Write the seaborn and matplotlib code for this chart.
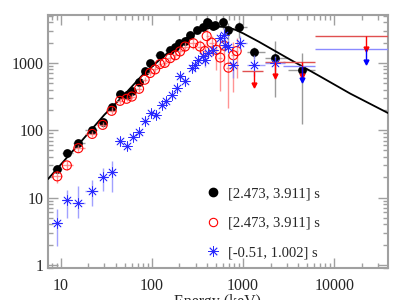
import numpy as np
import pandas as pd
import matplotlib
matplotlib.use("Agg")
import matplotlib.pyplot as plt
import matplotlib.ticker as mticker
from matplotlib.lines import Line2D
import seaborn as sns

# ============================================================================
# DATA
# ============================================================================

# interval [2.473, 3.911] s, filled black circles
blk_e = [9.1, 11.6, 15.5, 22, 28.7, 36, 44.5, 52.5, 60, 72, 83, 95, 122, 158,
         178, 196, 230, 261, 309, 363, 398, 414, 470, 491, 598, 690, 904,
         1320, 2240, 4410]
blk_f = [26.5, 45.7, 64, 100, 133, 220, 347, 336, 385, 515, 745, 1000, 1300,
         1560, 1750, 1960, 2090, 2600, 3100, 3470, 4120, 3900, 3540, 3700,
         4040, 3100, 3360, 1445, 1200, 790]
blk_dlo = [.04, .03, .03, .03, .03, .03, .03, .03, .03, .03, .03, .03, .03,
           .03, .03, .03, .03, .04, .04, .04, .05, .05, .06, .06, .1, .15,
           .15, .08, .58, .8]
blk_dhi = [.04, .03, .03, .03, .03, .03, .03, .03, .03, .03, .03, .03, .03,
           .03, .03, .03, .03, .04, .04, .04, .05, .05, .06, .06, .08, .1,
           .1, .08, .24, .25]

# interval [2.473, 3.911] s, open red circles
red_e = [9.1, 11.6, 15.5, 22, 28.7, 36, 44.5, 52.5, 60, 72, 83, 95, 108, 122,
         138, 158, 180, 203, 230, 284, 336, 380, 398, 450, 510, 560, 620,
         690, 780, 850]
red_f = [20.6, 30, 54, 88, 120, 194, 273, 293, 316, 412, 562, 707, 800, 960,
         1000, 1175, 1300, 1480, 1750, 1960, 1750, 1500, 2500, 2000, 1560,
         1200, 1800, 850, 1300, 1500]
red_dlo = [.1, .07, .06, .05, .05, .05, .04, .04, .04, .04, .04, .04, .05,
           .05, .05, .05, .06, .06, .07, .08, .1, .2, .15, .2, .3, .5, .3,
           .6, .55, .4]
red_dhi = [.08, .06, .05, .05, .05, .05, .04, .04, .04, .04, .04, .04, .05,
           .05, .05, .05, .06, .06, .07, .08, .1, .1, .1, .1, .15, .15, .15,
           .2, .2, .2]
red_ul_e = [1320, 2240, 4410, 22300]
red_ul_f = [745, 1015, 1025, 2520]
red_ul_lo = [960, 1750, 2750, 6150]
red_ul_hi = [1670, 2900, 6150, 80000]

# interval [-0.51, 1.002] s, blue asterisks
blu_e = [9.1, 11.6, 15.2, 21.7, 29.2, 36, 44.5, 52.5, 62, 72, 83, 97, 110,
         128, 141, 166, 186, 204, 230, 275, 297, 323, 363, 380, 414, 470,
         560, 610, 630, 690, 780, 930, 1320, 2240]
blu_f = [4.2, 9.25, 8.4, 12.7, 19.9, 23.8, 68, 59, 79, 92.5, 139, 180, 170,
         240, 268, 337, 425, 630, 530, 835, 935, 1110, 1245, 1100, 1400,
         1560, 2330, 2630, 1860, 1750, 935, 1960, 935, 1000]
blu_dlo = [.35, .27, .23, .23, .2, .3, .06, .06, .05, .05, .05, .05, .05,
           .05, .05, .05, .05, .05, .05, .05, .05, .06, .06, .1, .06, .07,
           .08, .1, .1, .1, .2, .1, .16, .1]
blu_dhi = [.2, .14, .24, .16, .14, .16, .06, .06, .05, .05, .05, .05, .05,
           .05, .05, .05, .05, .05, .05, .05, .05, .06, .06, .1, .06, .07,
           .08, .1, .1, .1, .1, .1, .15, .1]
blu_ul_e = [4410, 22300]
blu_ul_f = [890, 1620]
blu_ul_lo = [2750, 6150]
blu_ul_hi = [6150, 80000]

# fitted model curve
fit_e = [7.2, 15, 30, 50, 80, 120, 180, 250, 350, 450, 550, 650, 800, 1000,
         1500, 3000, 7000, 15000, 39000]
fit_f = [18.8, 58, 170, 340, 680, 1100, 1760, 2450, 3050, 3350, 3450, 3400,
         3150, 2750, 2050, 1200, 630, 350, 180]

legend_labels = ["[2.473, 3.911] s", "[2.473, 3.911] s", "[-0.51, 1.002] s"]


def bin_err(e):
    # half widths of the energy bins (geometric midpoints)
    e = np.asarray(e, float)
    mid = np.sqrt(e[1:] * e[:-1])
    lo = np.r_[e[0] ** 2 / mid[0], mid]
    hi = np.r_[mid, e[-1] ** 2 / mid[-1]]
    return [e - lo, hi - e]


def flux_err(f, dlo, dhi):
    f = np.asarray(f, float)
    return [f - f * 10 ** -np.asarray(dlo), f * 10 ** np.asarray(dhi) - f]


# ============================================================================
# PLOT
# ============================================================================

sns.set_style("ticks")
plt.rcParams['font.family'] = ['Liberation Serif', 'DejaVu Serif']
plt.rcParams['mathtext.fontset'] = 'stix'

fig, ax = plt.subplots(figsize=(4, 3), dpi=100)
fig.subplots_adjust(left=0.12, right=0.97, bottom=0.107, top=0.951)
ax.set(xscale='log', yscale='log')

blk = pd.DataFrame({"E": blk_e, "F": blk_f})
red = pd.DataFrame({"E": red_e, "F": red_f})
blu = pd.DataFrame({"E": blu_e, "F": blu_f})
fit = pd.DataFrame({"E": fit_e, "F": fit_f})

ax.errorbar(blk_e, blk_f, xerr=bin_err(blk_e),
            yerr=flux_err(blk_f, blk_dlo, blk_dhi),
            fmt='none', ecolor='#9a9a9a', elinewidth=1, zorder=1)
sns.scatterplot(data=blk, x="E", y="F", color='black', s=40,
                edgecolor='black', linewidth=0, zorder=2, ax=ax)

sns.lineplot(data=fit, x="E", y="F", color='black', lw=1.3,
             estimator=None, sort=False, zorder=3, ax=ax)

ax.errorbar(red_e, red_f, xerr=bin_err(red_e),
            yerr=flux_err(red_f, red_dlo, red_dhi),
            fmt='none', ecolor='#ff7a7a', elinewidth=1, alpha=0.8, zorder=4)
ax.errorbar(red_ul_e, red_ul_f,
            xerr=[np.subtract(red_ul_e, red_ul_lo),
                  np.subtract(red_ul_hi, red_ul_e)],
            fmt='none', ecolor='#e05050', elinewidth=1, zorder=4)
sns.scatterplot(data=red, x="E", y="F", marker='o', s=42,
                facecolor='none', edgecolor='red', linewidth=0.8,
                zorder=5, ax=ax)

ax.errorbar(blu_e, blu_f, xerr=bin_err(blu_e),
            yerr=flux_err(blu_f, blu_dlo, blu_dhi),
            fmt='none', ecolor='#8a8aff', elinewidth=1, alpha=0.8, zorder=6)
ax.errorbar(blu_ul_e, blu_ul_f,
            xerr=[np.subtract(blu_ul_e, blu_ul_lo),
                  np.subtract(blu_ul_hi, blu_ul_e)],
            fmt='none', ecolor='#8a8aff', elinewidth=1, zorder=6)
sns.scatterplot(data=blu, x="E", y="F", marker=(8, 2, 0), s=48,
                color='#2a2aff', edgecolor='#2a2aff', linewidth=0.55,
                zorder=7, ax=ax)

# upper limit arrows
for e_ul, f_ul, col in [(red_ul_e, red_ul_f, 'red'),
                        (blu_ul_e, blu_ul_f, 'blue')]:
    f_ul = np.asarray(f_ul, float)
    ax.vlines(e_ul, f_ul * 10 ** -0.2, f_ul, color=col, lw=1, zorder=8)
    ax.plot(e_ul, f_ul * 10 ** -0.2, ls='none', marker='v', ms=3.5,
            color=col, zorder=8)

ax.set_xlim(7.2, 39000)
ax.set_ylim(0.9, 5200)

fmt = mticker.FuncFormatter(lambda v, p: f"{v:g}")
ax.xaxis.set_major_formatter(fmt)
ax.yaxis.set_major_formatter(fmt)
ax.xaxis.set_minor_formatter(mticker.NullFormatter())
ax.yaxis.set_minor_formatter(mticker.NullFormatter())

for sp in ax.spines.values():
    sp.set_color('#a0a0a0')
    sp.set_linewidth(1.5)
ax.tick_params(which='both', direction='in', top=True, right=True,
               color='#a0a0a0', labelsize=11.5)
ax.tick_params(which='major', length=7, width=1)
ax.tick_params(which='minor', length=3.5, width=1)
ax.tick_params(axis='x', which='major', pad=7)
ax.tick_params(axis='y', which='major', pad=3)

ax.set_xlabel("Energy (keV)", fontsize=11.5)
ax.xaxis.set_label_coords(0.5, -0.105)
ax.set_ylabel(r"Flux (keV cm$^{-2}$ s$^{-1}$)", fontsize=11.5)
ax.yaxis.set_label_coords(-0.165, 0.5)

handles = [
    Line2D([], [], ls='none', marker='o', color='black', ms=6),
    Line2D([], [], ls='none', marker='o', mfc='none', mec='red', ms=6,
           mew=0.8),
    Line2D([], [], ls='none', marker=(8, 2, 0), color='#2a2aff', ms=7.5,
           mew=0.6),
]
ax.legend(handles, legend_labels, loc='upper left',
          bbox_to_anchor=(0.465, 0.32), frameon=False, fontsize=10.5,
          borderpad=0, handlelength=1, handletextpad=0.5,
          labelspacing=1.13, borderaxespad=0)

plt.savefig("out.png", dpi=100)
